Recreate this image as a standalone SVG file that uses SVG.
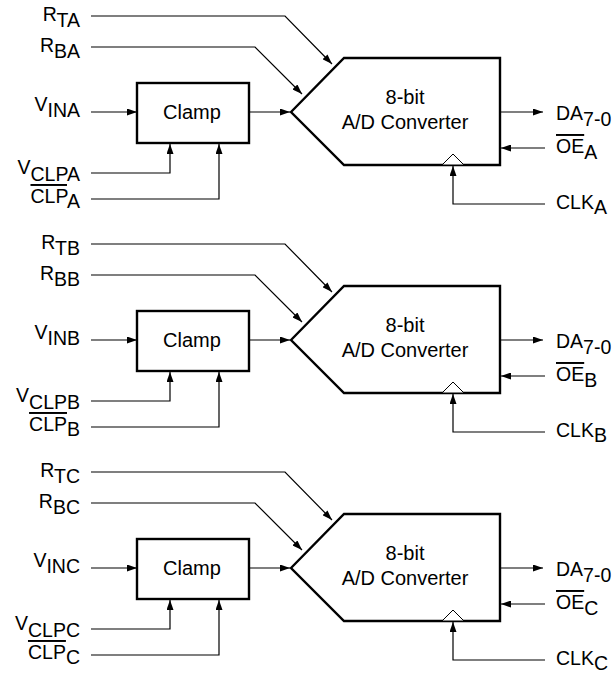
<svg xmlns="http://www.w3.org/2000/svg" width="612" height="675" viewBox="0 0 612 675">
<style>
  text { font-family: "Liberation Sans", Arial, Helvetica, sans-serif; fill: #000; }
  .lbl { font-size: 19.5px; }
  .blk { font-size: 20px; text-anchor: middle; }
  .end { text-anchor: end; }
  .ov { text-decoration: overline; }
  .box { fill: #fff; stroke: #000; stroke-width: 2.4; }
  .clk { fill: #fff; stroke: #000; stroke-width: 1; }
  .wire { fill: none; stroke: #000; stroke-width: 1.2; }
  .arr { marker-end: url(#ah); }
</style>
<defs>
  <marker id="ah" viewBox="0 0 10 7" refX="10" refY="3.5" markerWidth="10" markerHeight="7" markerUnits="userSpaceOnUse" orient="auto">
    <path d="M0,0 L10,3.5 L0,7 Z" fill="#000"/>
  </marker>
  <g id="wires">
    <path class="wire arr" d="M91,16 H285 L332,64"/>
    <path class="wire arr" d="M91,47 H255 L302,94"/>
    <path class="wire arr" d="M91,112 H137"/>
    <path class="wire arr" d="M249,112 H290"/>
    <path class="wire arr" d="M91,173 H170 V144"/>
    <path class="wire arr" d="M91,199 H219 V144"/>
    <path class="wire arr" d="M501,112 H543"/>
    <path class="wire arr" d="M545,148 H501"/>
    <path class="wire arr" d="M545,204 H453 V166"/>
  </g>
</defs>

<g id="connectors">
  <use href="#wires"/>
  <use href="#wires" transform="translate(0,228)"/>
  <use href="#wires" transform="translate(0,456)"/>
</g>

<!-- Channel A -->
<g id="clamp-A">
  <rect class="box" x="137" y="83" width="112" height="60"/>
  <text class="blk" x="192" y="119">Clamp</text>
</g>
<g id="adc-A">
  <polygon class="box" points="291,112 344,58 500,58 500,165 344,165"/>
  <polygon class="clk" points="442,165 453,154 464,165"/>
  <text class="blk" x="405" y="104">8-bit</text>
  <text class="blk" x="405" y="129">A/D Converter</text>
</g>
<g id="labels-A" class="lbl">
  <text class="end" x="80" y="21">R<tspan dy="6">TA</tspan></text>
  <text class="end" x="80" y="52">R<tspan dy="6">BA</tspan></text>
  <text class="end" x="80" y="111">V<tspan dy="6">INA</tspan></text>
  <text class="end" x="80" y="174">V<tspan dy="7">CLPA</tspan></text>
  <text class="end" x="80" y="203"><tspan class="ov">CLP</tspan><tspan dy="5">A</tspan></text>
  <text x="556" y="120">DA<tspan dy="6">7-0</tspan></text>
  <text x="556" y="153"><tspan class="ov">OE</tspan><tspan dy="6">A</tspan></text>
  <text x="556" y="209">CLK<tspan dy="5">A</tspan></text>
</g>

<!-- Channel B -->
<g id="clamp-B" transform="translate(0,228)">
  <rect class="box" x="137" y="83" width="112" height="60"/>
  <text class="blk" x="192" y="119">Clamp</text>
</g>
<g id="adc-B" transform="translate(0,228)">
  <polygon class="box" points="291,112 344,58 500,58 500,165 344,165"/>
  <polygon class="clk" points="442,165 453,154 464,165"/>
  <text class="blk" x="405" y="104">8-bit</text>
  <text class="blk" x="405" y="129">A/D Converter</text>
</g>
<g id="labels-B" class="lbl" transform="translate(0,228)">
  <text class="end" x="80" y="21">R<tspan dy="6">TB</tspan></text>
  <text class="end" x="80" y="52">R<tspan dy="6">BB</tspan></text>
  <text class="end" x="80" y="111">V<tspan dy="6">INB</tspan></text>
  <text class="end" x="80" y="174">V<tspan dy="7">CLPB</tspan></text>
  <text class="end" x="80" y="203"><tspan class="ov">CLP</tspan><tspan dy="5">B</tspan></text>
  <text x="556" y="120">DA<tspan dy="6">7-0</tspan></text>
  <text x="556" y="153"><tspan class="ov">OE</tspan><tspan dy="6">B</tspan></text>
  <text x="556" y="209">CLK<tspan dy="5">B</tspan></text>
</g>

<!-- Channel C -->
<g id="clamp-C" transform="translate(0,456)">
  <rect class="box" x="137" y="83" width="112" height="60"/>
  <text class="blk" x="192" y="119">Clamp</text>
</g>
<g id="adc-C" transform="translate(0,456)">
  <polygon class="box" points="291,112 344,58 500,58 500,165 344,165"/>
  <polygon class="clk" points="442,165 453,154 464,165"/>
  <text class="blk" x="405" y="104">8-bit</text>
  <text class="blk" x="405" y="129">A/D Converter</text>
</g>
<g id="labels-C" class="lbl" transform="translate(0,456)">
  <text class="end" x="80" y="21">R<tspan dy="6">TC</tspan></text>
  <text class="end" x="80" y="52">R<tspan dy="6">BC</tspan></text>
  <text class="end" x="80" y="111">V<tspan dy="6">INC</tspan></text>
  <text class="end" x="80" y="174">V<tspan dy="7">CLPC</tspan></text>
  <text class="end" x="80" y="203"><tspan class="ov">CLP</tspan><tspan dy="5">C</tspan></text>
  <text x="556" y="120">DA<tspan dy="6">7-0</tspan></text>
  <text x="556" y="153"><tspan class="ov">OE</tspan><tspan dy="6">C</tspan></text>
  <text x="556" y="209">CLK<tspan dy="5">C</tspan></text>
</g>
</svg>
